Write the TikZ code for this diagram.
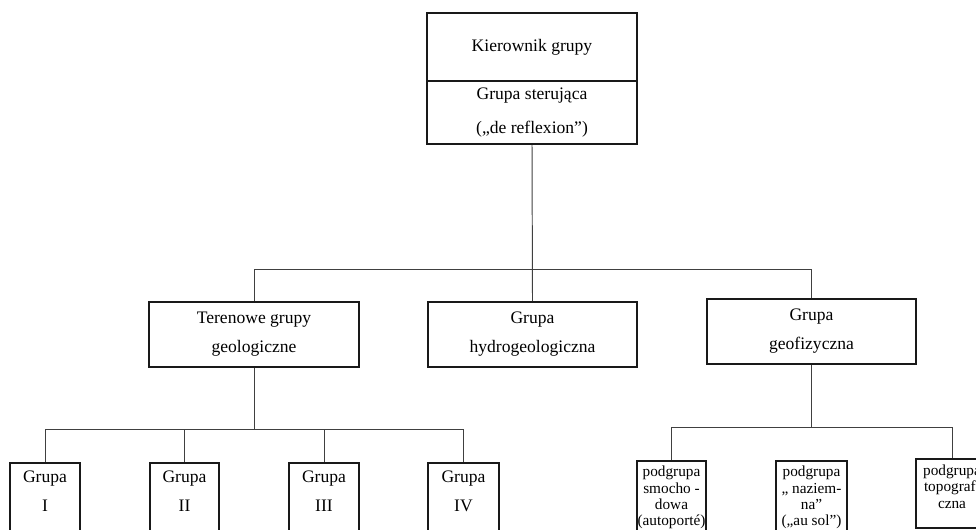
\documentclass[tikz,border=0pt]{standalone}
\usepackage{fontspec}
\setmainfont{Liberation Serif}
\usepackage{tikz}
\usetikzlibrary{positioning}
\tikzstyle{box} = [draw=black!90, line width=0.9pt, inner sep=0pt, align=center, font=\fontsize{10}{16.5}\selectfont]
\tikzstyle{smallbox} = [draw=black!90, line width=0.9pt, inner sep=0pt, anchor=north]
\tikzstyle{txt} = [inner sep=0pt, align=center, anchor=north, font=\fontsize{10}{17}\selectfont]
\tikzstyle{smalltxt} = [inner sep=0pt, align=center, anchor=north, font=\fontsize{8.7}{9.3}\selectfont]
\tikzstyle{line} = [draw=black!75, line width=0.55pt]

\begin{document}
\begin{tikzpicture}[x=0.02cm, y=-0.02cm]
	\useasboundingbox (0,0) rectangle (976,529);
	\clip (0,0) rectangle (976,529);
	% head of the group
	\node [box, minimum width=4.2cm, minimum height=1.36cm] (kier) at (532, 47) {Kierownik grupy};
	\node [box, minimum width=4.2cm, minimum height=1.26cm, font=\fontsize{10}{19}\selectfont] (ster) at (532, 112.5) {Grupa sterująca\\(„de reflexion”)};
	% second level
	\node [box, minimum width=4.2cm, minimum height=1.3cm] (ter) at (254, 334.5) {Terenowe grupy\\geologiczne};
	\node [box, minimum width=4.18cm, minimum height=1.3cm] (hyd) at (532.5, 334.5) {Grupa\\hydrogeologiczna};
	\node [box, minimum width=4.18cm, minimum height=1.3cm] (geo) at (811.5, 331.5) {Grupa\\geofizyczna};
	\coordinate (bus) at (532, 269);
	\draw [line] (ster.south) -- (hyd.north);
	\draw [line] (ter.north) -- (ter.north |- bus) -- (geo.north |- bus) -- (geo.north);
	% field groups
	\node [smallbox, minimum width=1.4cm, minimum height=2cm] (g1) at (45, 462) {};
	\node [smallbox, minimum width=1.38cm, minimum height=2cm] (g2) at (184.5, 462) {};
	\node [smallbox, minimum width=1.4cm, minimum height=2cm] (g3) at (324, 462) {};
	\node [smallbox, minimum width=1.42cm, minimum height=2cm] (g4) at (463.5, 462) {};
	\node [txt] at ([yshift=-0.16cm]g1.north) {Grupa\\I};
	\node [txt] at ([yshift=-0.16cm]g2.north) {Grupa\\II};
	\node [txt] at ([yshift=-0.16cm]g3.north) {Grupa\\III};
	\node [txt] at ([yshift=-0.16cm]g4.north) {Grupa\\IV};
	\coordinate (busg) at (254, 429);
	\draw [line] (ter.south) -- (busg);
	\draw [line] (g1.north) -- (g1.north |- busg) -- (g4.north |- busg) -- (g4.north);
	\draw [line] (g2.north) -- (g2.north |- busg);
	\draw [line] (g3.north) -- (g3.north |- busg);
	% geophysical subgroups
	\node [smallbox, minimum width=1.38cm, minimum height=2cm] (p1) at (671.5, 460) {};
	\node [smallbox, minimum width=1.42cm, minimum height=2cm] (p2) at (811.5, 460) {};
	\node [smallbox, minimum width=1.44cm, minimum height=1.38cm] (p3) at (952, 458) {};
	\node [smalltxt] at ([yshift=-0.12cm]p1.north) {podgrupa\\smocho -\\dowa\\(autoporté)};
	\node [smalltxt] at ([yshift=-0.12cm]p2.north) {podgrupa\\„ naziem-\\na”\\(„au sol”)};
	\node [smalltxt] at ([yshift=-0.13cm]p3.north) {podgrupa\\topografi\\czna};
	\coordinate (busp) at (811.5, 427);
	\draw [line] (geo.south) -- (busp);
	\draw [line] (p1.north) -- (p1.north |- busp) -- (p3.north |- busp) -- (p3.north);
\end{tikzpicture}
\end{document}
